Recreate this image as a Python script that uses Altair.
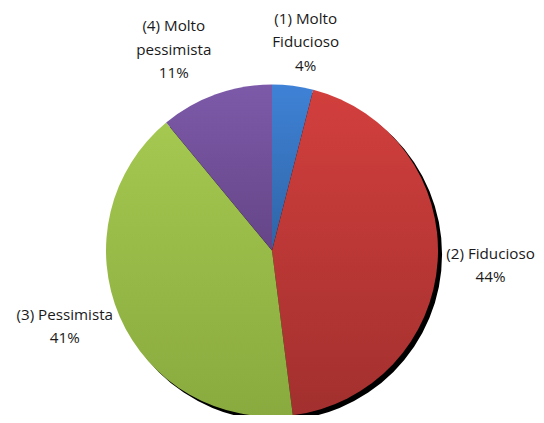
import altair as alt
import pandas as pd

categories = ["(1) Molto Fiducioso", "(2) Fiducioso", "(3) Pessimista", "(4) Molto pessimista"]
label_lines = ["(1) Molto\nFiducioso", "(2) Fiducioso", "(3) Pessimista", "(4) Molto\npessimista"]
values = [4, 44, 41, 11]

top_colors = ["#3f82d6", "#d23f3d", "#a4c850", "#7d5aa9"]
bottom_colors = ["#2f64a6", "#a2302e", "#89aa3e", "#654587"]

starts, ends = [], []
acc = 0
for v in values:
    starts.append(acc)
    acc += v
    ends.append(acc)

df = pd.DataFrame({
    "cat": categories,
    "value": values,
    "start": starts,
    "end": ends,
    "mid": [(s + e) / 2 for s, e in zip(starts, ends)],
    "label": [f"{l}\n{v}%" for l, v in zip(label_lines, values)],
})

CX, CY, R = 264, 242.5, 166
LH = 23.5
theta_scale = alt.Scale(domain=[0, 100])
base = alt.Chart(df)

shadow = base.transform_aggregate(total="sum(value)").mark_arc(color="black").encode(
    theta=alt.Theta("total:Q", scale=theta_scale),
    x=alt.value(CX + 4), y=alt.value(CY + 4), radius=alt.value(R),
)

slices = []
for i, c in enumerate(categories):
    grad = alt.LinearGradient(
        gradient="linear", x1=0, y1=0, x2=0, y2=1,
        stops=[alt.GradientStop(offset=0, color=top_colors[i]),
               alt.GradientStop(offset=1, color=bottom_colors[i])],
    )
    slices.append(
        base.transform_filter(alt.datum.cat == c).mark_arc(color=grad).encode(
            theta=alt.Theta("start:Q", scale=theta_scale),
            theta2="end:Q",
            x=alt.value(CX), y=alt.value(CY), radius=alt.value(R),
        )
    )

# label placement (radius, dx, dy) per slice
label_pos = [(213, 7, 3), (221, -2, 1), (216, -9, -10), (225, -22, 11)]
labels = []
for i, c in enumerate(categories):
    r, ddx, ddy = label_pos[i]
    n_lines = df["label"][i].count("\n") + 1
    labels.append(
        base.transform_filter(alt.datum.cat == c).mark_text(
            font="Open Sans", fontSize=15.2, color="#1a1a1a", lineBreak="\n",
            lineHeight=LH, align="center", baseline="middle", dx=ddx,
            dy=ddy - (n_lines - 1) * LH / 2,
        ).encode(
            theta=alt.Theta("mid:Q", scale=theta_scale),
            text="label:N",
            x=alt.value(CX), y=alt.value(CY), radius=alt.value(r),
        )
    )

chart = alt.layer(shadow, *slices, *labels).properties(
    width=528, height=407, autosize="none", padding=0, background="white"
).configure_view(stroke=None)

chart.save("out.html", embed_options={"renderer": "svg", "actions": False})
